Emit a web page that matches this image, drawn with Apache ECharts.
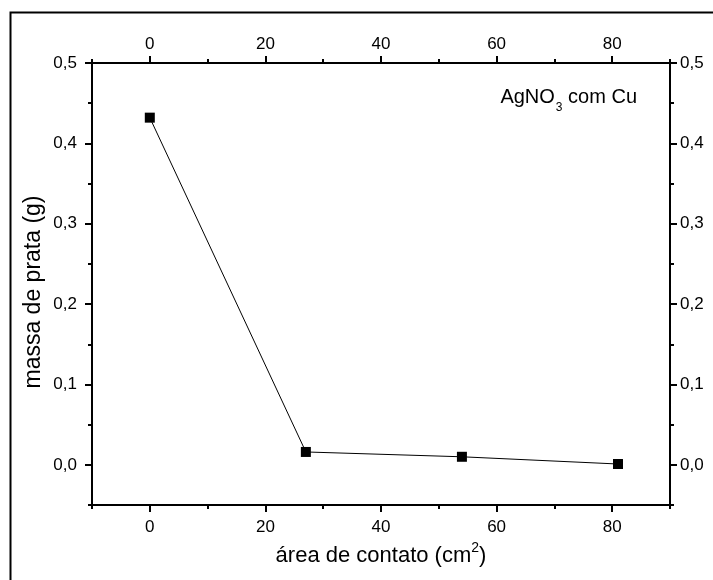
<!DOCTYPE html>
<html><head><meta charset="utf-8">
<script src="https://cdn.jsdelivr.net/npm/echarts@6/dist/echarts.min.js"></script>
<style>html,body{margin:0;padding:0;background:#fff}#c{width:713px;height:580px}</style>
</head><body><div id="c"></div>
<script>
var xValues = [0, 27, 54, 81];
var yValues = [0.432, 0.016, 0.010, 0.001];
var xTicks = [0, 20, 40, 60, 80];
var yTicks = [0, 0.1, 0.2, 0.3, 0.4, 0.5];
var seriesLabel = '{a|AgNO}{s|3}{a| com Cu}';
var xTitle = '{a|área de contato (cm}{p|2}{a|)}';
var yTitle = 'massa de prata (g)';

var FONT = '"Liberation Sans", Arial, sans-serif';
var fmtY = function (v) { return v.toFixed(1).replace('.', ','); };
var fmtX = function (v) { return String(Math.round(v)); };

function majorX(pos, show) {
  return {
    type: 'value', position: pos, min: -10, max: 90, interval: 10,
    axisLine: { show: true, onZero: false, lineStyle: { color: '#000', width: 2 } },
    axisTick: { show: true, customValues: xTicks, length: 7, lineStyle: { color: '#000', width: 2 } },
    axisLabel: { show: true, customValues: xTicks, formatter: fmtX, color: '#000', fontSize: 17, fontFamily: FONT, margin: pos === 'top' ? 10 : 14 },
    splitLine: { show: false },
    name: show ? xTitle : '', nameLocation: 'middle', nameGap: 28,
    nameTextStyle: {
      color: '#000', fontSize: 22, fontFamily: FONT,
      rich: {
        a: { fontSize: 22, lineHeight: 22, fontFamily: FONT, color: '#000' },
        p: { fontSize: 14, lineHeight: 14, padding: [0, 0, 16, 0], fontFamily: FONT, color: '#000' }
      }
    }
  };
}
function minorX(pos) {
  return {
    type: 'value', position: pos, min: -10, max: 90, interval: 10,
    axisLine: { show: false, onZero: false },
    axisTick: { show: true, length: 4, lineStyle: { color: '#000', width: 2 } },
    axisLabel: { show: false }, splitLine: { show: false }
  };
}
function majorY(pos) {
  return {
    type: 'value', position: pos, min: -0.05, max: 0.5, interval: 0.05,
    axisLine: { show: true, onZero: false, lineStyle: { color: '#000', width: 2 } },
    axisTick: { show: true, customValues: yTicks, length: 7, lineStyle: { color: '#000', width: 2 } },
    axisLabel: { show: true, customValues: yTicks, formatter: fmtY, color: '#000', fontSize: 17, fontFamily: FONT, margin: pos === 'left' ? 15 : 10 },
    splitLine: { show: false }
  };
}
function minorY(pos) {
  return {
    type: 'value', position: pos, min: -0.05, max: 0.5, interval: 0.05,
    axisLine: { show: false, onZero: false },
    axisTick: { show: true, length: 4, lineStyle: { color: '#000', width: 2 } },
    axisLabel: { show: false }, splitLine: { show: false }
  };
}

var chart = echarts.init(document.getElementById('c'), null, { renderer: 'canvas' });
chart.setOption({
  backgroundColor: '#fff',
  animation: false,
  textStyle: { fontFamily: FONT, fontSize: 17, color: '#000' },
  grid: { left: 92, top: 63, width: 578, height: 442, containLabel: false },
  xAxis: [majorX('bottom', true), majorX('top', false), minorX('bottom'), minorX('top')],
  yAxis: [majorY('left'), majorY('right'), minorY('left'), minorY('right')],
  graphic: [
    { type: 'rect', z: 100, shape: { x: 10.5, y: 12.5, width: 800, height: 700 }, style: { fill: 'none', stroke: '#000', lineWidth: 2 } },
    { type: 'text', z: 100, x: 34, y: 292, rotation: Math.PI / 2, style: {
        text: yTitle, fill: '#000', font: '23px ' + FONT, textAlign: 'center', textVerticalAlign: 'middle', align: 'center', verticalAlign: 'middle' } },
    { type: 'text', z: 100, right: 76, top: 87, style: {
        text: seriesLabel, fill: '#000', font: '20px ' + FONT,
        rich: {
          a: { fontSize: 20, lineHeight: 20, verticalAlign: 'top', fontFamily: FONT, fill: '#000' },
          s: { fontSize: 12, lineHeight: 12, padding: [15, 0, 0, 1], verticalAlign: 'top', fontFamily: FONT, fill: '#000' }
        } } }
  ],
  series: [{
    type: 'line', xAxisIndex: 0, yAxisIndex: 0,
    data: xValues.map(function (x, i) { return [x, yValues[i]]; }),
    symbol: 'rect', symbolSize: 10, showSymbol: true,
    itemStyle: { color: '#000' },
    lineStyle: { color: '#000', width: 1 }
  }]
});
</script></body></html>
